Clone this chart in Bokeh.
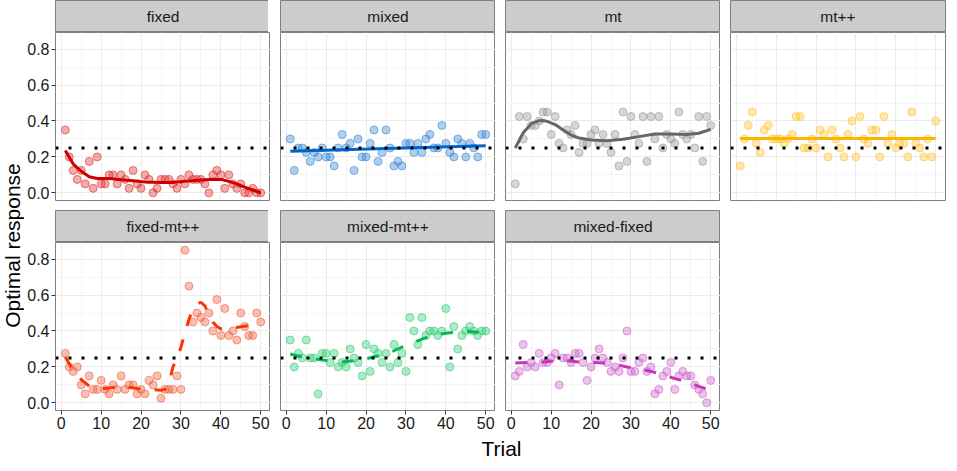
import math
from bokeh.plotting import figure
from bokeh.layouts import row, column
from bokeh.models import Range1d, FixedTicker, NumeralTickFormatter, Span
from bokeh.embed import file_html
from bokeh.resources import INLINE
from bokeh.core.properties import value

FONT = "Liberation Sans"

trials = list(range(1, 51))

panel_names = ["fixed", "mixed", "mt", "mt++", "fixed-mt++", "mixed-mt++", "mixed-fixed"]

fixed = [0.35, 0.2, 0.125, 0.075, 0.125, 0.05, 0.175, 0.025, 0.2, 0.05,
         0.05, 0.1, 0.1, 0.05, 0.1, 0.075, 0.025, 0.125, 0.05, 0.025,
         0.1, 0.075, 0.0, 0.025, 0.075, 0.075, 0.075, 0.05, 0.025, 0.075,
         0.05, 0.1, 0.075, 0.075, 0.075, 0.05, 0.0, 0.1, 0.125, 0.1,
         0.025, 0.1, 0.05, 0.025, 0.05, 0.0, 0.0, 0.025, 0.0, 0.0]
mixed = [0.3, 0.125, 0.25, 0.25, 0.225, 0.175, 0.225, 0.2, 0.25, 0.2,
         0.2, 0.15, 0.25, 0.325, 0.25, 0.275, 0.125, 0.3, 0.2, 0.2,
         0.275, 0.35, 0.175, 0.225, 0.35, 0.25, 0.15, 0.175, 0.15, 0.275,
         0.275, 0.225, 0.275, 0.225, 0.3, 0.325, 0.25, 0.25, 0.375, 0.275,
         0.225, 0.2, 0.3, 0.275, 0.2, 0.275, 0.25, 0.2, 0.325, 0.325]
mt = [0.05, 0.425, 0.3, 0.425, 0.375, 0.375, 0.4, 0.45, 0.45, 0.325,
      0.425, 0.275, 0.25, 0.35, 0.325, 0.375, 0.225, 0.275, 0.275, 0.325,
      0.35, 0.275, 0.325, 0.275, 0.225, 0.325, 0.15, 0.45, 0.175, 0.425,
      0.325, 0.275, 0.425, 0.175, 0.425, 0.3, 0.425, 0.25, 0.325, 0.3,
      0.275, 0.45, 0.325, 0.3, 0.325, 0.25, 0.425, 0.175, 0.425, 0.375]
mtpp = [0.15, 0.3, 0.375, 0.45, 0.275, 0.225, 0.35, 0.375, 0.3, 0.3,
        0.3, 0.275, 0.3, 0.325, 0.425, 0.425, 0.25, 0.25, 0.3, 0.25,
        0.35, 0.325, 0.2, 0.35, 0.3, 0.25, 0.2, 0.325, 0.4, 0.2,
        0.425, 0.3, 0.275, 0.35, 0.35, 0.2, 0.425, 0.275, 0.325, 0.25,
        0.275, 0.275, 0.2, 0.45, 0.275, 0.25, 0.2, 0.3, 0.2, 0.4]
fixed_mtpp = [0.275, 0.2, 0.175, 0.2, 0.1, 0.05, 0.15, 0.075, 0.075, 0.125,
              0.075, 0.05, 0.1, 0.075, 0.15, 0.075, 0.1, 0.1, 0.05, 0.075,
              0.05, 0.125, 0.1, 0.15, 0.025, 0.075, 0.075, 0.075, 0.15, 0.075,
              0.85, 0.65, 0.45, 0.5, 0.475, 0.45, 0.5, 0.4, 0.575, 0.375,
              0.525, 0.375, 0.4, 0.35, 0.5, 0.425, 0.375, 0.375, 0.5, 0.45]
mixed_mtpp = [0.35, 0.2, 0.275, 0.25, 0.35, 0.25, 0.25, 0.05, 0.275, 0.275,
              0.225, 0.275, 0.2, 0.225, 0.2, 0.3, 0.25, 0.225, 0.15, 0.325,
              0.175, 0.3, 0.275, 0.225, 0.275, 0.2, 0.325, 0.225, 0.275, 0.175,
              0.475, 0.4, 0.325, 0.475, 0.375, 0.4, 0.4, 0.375, 0.4, 0.525,
              0.2, 0.425, 0.3, 0.375, 0.4, 0.425, 0.4, 0.375, 0.4, 0.4]
mixed_fixed = [0.15, 0.175, 0.325, 0.2, 0.225, 0.2, 0.275, 0.225, 0.225, 0.25,
               0.275, 0.1, 0.25, 0.25, 0.225, 0.275, 0.275, 0.225, 0.125, 0.2,
               0.25, 0.3, 0.25, 0.225, 0.175, 0.2, 0.175, 0.25, 0.4, 0.175,
               0.175, 0.225, 0.25, 0.175, 0.2, 0.05, 0.075, 0.15, 0.175, 0.225,
               0.075, 0.15, 0.175, 0.15, 0.15, 0.1, 0.075, 0.05, 0.0, 0.125]

# smoothed trend curves
fixed_sx = [1, 3, 5, 7, 9, 12, 15, 18, 21, 25, 28, 31, 35, 38, 40, 42, 44, 46, 48, 50]
fixed_sy = [0.236, 0.16, 0.12, 0.09, 0.08, 0.08, 0.073, 0.068, 0.06, 0.057,
            0.058, 0.064, 0.072, 0.076, 0.075, 0.064, 0.05, 0.032, 0.016, 0.0]
mixed_sx = [1, 25, 50]
mixed_sy = [0.232, 0.247, 0.262]
mt_sx = [1, 3, 5, 7, 8, 9, 11, 13, 15, 17, 20, 24, 28, 32, 36, 40, 44, 47, 50]
mt_sy = [0.25, 0.335, 0.385, 0.402, 0.403, 0.398, 0.38, 0.35, 0.322, 0.305,
         0.294, 0.29, 0.298, 0.313, 0.328, 0.327, 0.325, 0.332, 0.353]
mtpp_sx = [1, 50]
mtpp_sy = [0.302, 0.302]
fixed_mtpp_sx = [1, 3, 5, 7, 10, 13, 16, 19, 22, 25, 26, 27, 28, 29, 30, 31, 32, 33,
                 34, 35, 36, 37, 38, 39, 40, 42, 44, 46, 48, 50]
fixed_mtpp_sy = [0.255, 0.18, 0.13, 0.093, 0.078, 0.086, 0.09, 0.08, 0.075, 0.07,
                 0.075, 0.11, 0.2, 0.245, 0.31, 0.39, 0.465, 0.52, 0.55, 0.56,
                 0.54, 0.49, 0.45, 0.425, 0.412, 0.413, 0.42, 0.427, 0.433, 0.44]
mixed_mtpp_sx = [1, 4, 8, 11, 14, 17, 20, 23, 26, 29, 32, 35, 38, 41, 44, 47, 50]
mixed_mtpp_sy = [0.272, 0.255, 0.242, 0.232, 0.228, 0.235, 0.245, 0.262, 0.28, 0.31,
                 0.337, 0.363, 0.38, 0.39, 0.398, 0.395, 0.39]
mixed_fixed_sx = [1, 4, 8, 11, 14, 17, 20, 23, 26, 29, 32, 35, 38, 41, 44, 47, 50]
mixed_fixed_sy = [0.222, 0.225, 0.228, 0.234, 0.234, 0.228, 0.225, 0.222, 0.215, 0.2,
                  0.19, 0.175, 0.158, 0.135, 0.118, 0.092, 0.07]

chance_level = 0.25

x_ticks = [0, 10, 20, 30, 40, 50]
x_minor = [5, 15, 25, 35, 45]
y_ticks = [0.0, 0.2, 0.4, 0.6, 0.8]
y_minor = [0.1, 0.3, 0.5, 0.7]

line_colors = ["#CC0000", "#0066CC", "#666666", "#FFB300", "#FF3300", "#00BB55", "#CC33BB"]
point_colors = ["#E03030", "#3A86D6", "#999999", "#FFC533", "#F06040", "#33CC77", "#CC66CC"]
dashed = [False, False, False, False, True, True, True]

series = [fixed, mixed, mt, mtpp, fixed_mtpp, mixed_mtpp, mixed_fixed]
smooth_x = [fixed_sx, mixed_sx, mt_sx, mtpp_sx, fixed_mtpp_sx, mixed_mtpp_sx, mixed_fixed_sx]
smooth_y = [fixed_sy, mixed_sy, mt_sy, mtpp_sy, fixed_mtpp_sy, mixed_mtpp_sy, mixed_fixed_sy]

FW, FH = 215, 168
STRIP_H = 32
GAP_V = 10
GAP_H = 10
BOT_AXIS = 26
LEFT_AXIS = 29
YLAB_W = 24
XLAB_H = 24
BORDER = "#7F7F7F"


def make_strip(name, lb, rb):
    s = figure(frame_width=FW, frame_height=STRIP_H, x_range=Range1d(0, 1), y_range=Range1d(0, 1),
               x_axis_location=None, y_axis_location=None, toolbar_location=None,
               output_backend="svg", title=None,
               min_border_left=lb, min_border_right=rb, min_border_top=0, min_border_bottom=0,
               background_fill_color="#CCCCCC", outline_line_color=BORDER,
               border_fill_color="white")
    s.grid.visible = False
    s.text(x=[0.5], y=[0.5], text=[name], text_align="center", text_baseline="middle",
           text_font=value(FONT), text_font_size="15.5px", text_color="#1A1A1A")
    return s


def make_panel(i, lb, rb, bb, left_axis, bottom_axis):
    p = figure(frame_width=FW, frame_height=FH,
               x_range=Range1d(-1.45, 52.45), y_range=Range1d(-0.0425, 0.8925),
               x_axis_location="below" if bottom_axis else None,
               y_axis_location="left" if left_axis else None,
               toolbar_location=None, output_backend="svg", title=None,
               min_border_left=lb, min_border_right=rb, min_border_top=0, min_border_bottom=bb,
               background_fill_color="white", outline_line_color=BORDER,
               border_fill_color="white")
    xt = FixedTicker(ticks=x_ticks, minor_ticks=x_minor)
    yt = FixedTicker(ticks=y_ticks, minor_ticks=y_minor)
    p.xgrid.ticker = xt
    p.ygrid.ticker = yt
    for g in (p.xgrid, p.ygrid):
        g.grid_line_color = "#EBEBEB"
        g.grid_line_width = 1
        g.minor_grid_line_color = "#F5F5F5"
        g.minor_grid_line_width = 1
    for ax in p.axis:
        ax.axis_line_color = None
        ax.major_tick_line_color = "#333333"
        ax.major_tick_in = 0
        ax.major_tick_out = 4
        ax.minor_tick_line_color = None
        ax.major_label_text_font = FONT
        ax.major_label_text_font_size = "16px"
        ax.major_label_text_color = "#1A1A1A"
    if left_axis:
        p.yaxis.ticker = yt
        p.yaxis.formatter = NumeralTickFormatter(format="0.0")
        p.yaxis.major_label_standoff = 2
    if bottom_axis:
        p.xaxis.ticker = xt
        p.xaxis.major_label_standoff = 2
    p.scatter(trials, series[i], size=8, fill_color=point_colors[i], fill_alpha=0.4,
              line_color=point_colors[i], line_alpha=0.6, line_width=1)
    p.line(smooth_x[i], smooth_y[i], line_color=line_colors[i], line_width=3,
           line_dash="12 14" if dashed[i] else "solid")
    p.add_layout(Span(location=chance_level, dimension="width", line_color="black",
                      line_width=3, line_dash="3 10"))
    return p


cols = [[] for _ in range(4)]
for i, name in enumerate(panel_names):
    r, c = divmod(i, 4)
    lb = LEFT_AXIS if c == 0 else GAP_H
    rb = 1 if c == 3 else 0
    bottom_axis = (r == 1)
    bb = BOT_AXIS if bottom_axis else GAP_V
    cols[c].append(make_strip(name, lb, rb))
    cols[c].append(make_panel(i, lb, rb, bb, c == 0, bottom_axis))

total_h = 2 * STRIP_H + 2 * FH + GAP_V + BOT_AXIS
ylab = figure(frame_width=YLAB_W, frame_height=total_h, x_range=Range1d(0, YLAB_W),
              y_range=Range1d(0, total_h), x_axis_location=None, y_axis_location=None,
              toolbar_location=None, output_backend="svg", title=None,
              min_border_left=0, min_border_right=0, min_border_top=0, min_border_bottom=0,
              outline_line_color=None)
ylab.grid.visible = False
ylab.text(x=[YLAB_W / 2], y=[total_h - 245], text=["Optimal response"], angle=math.pi / 2,
          text_align="center", text_baseline="middle", text_font=value(FONT),
          text_font_size="21px", text_color="black")

top = row([ylab] + [column(col, spacing=0) for col in cols], spacing=0)

total_w = YLAB_W + (LEFT_AXIS + FW) + 2 * (GAP_H + FW) + (GAP_H + FW + 1)
xlab = figure(frame_width=total_w, frame_height=XLAB_H, x_range=Range1d(0, total_w),
              y_range=Range1d(0, XLAB_H), x_axis_location=None, y_axis_location=None,
              toolbar_location=None, output_backend="svg", title=None,
              min_border_left=0, min_border_right=0, min_border_top=0, min_border_bottom=0,
              outline_line_color=None)
xlab.grid.visible = False
xlab.text(x=[501], y=[XLAB_H / 2], text=["Trial"], text_align="center", text_baseline="middle",
          text_font=value(FONT), text_font_size="21px", text_color="black")

layout = column([top, xlab], spacing=0)

open("out.html", "w").write(file_html(layout, INLINE))
